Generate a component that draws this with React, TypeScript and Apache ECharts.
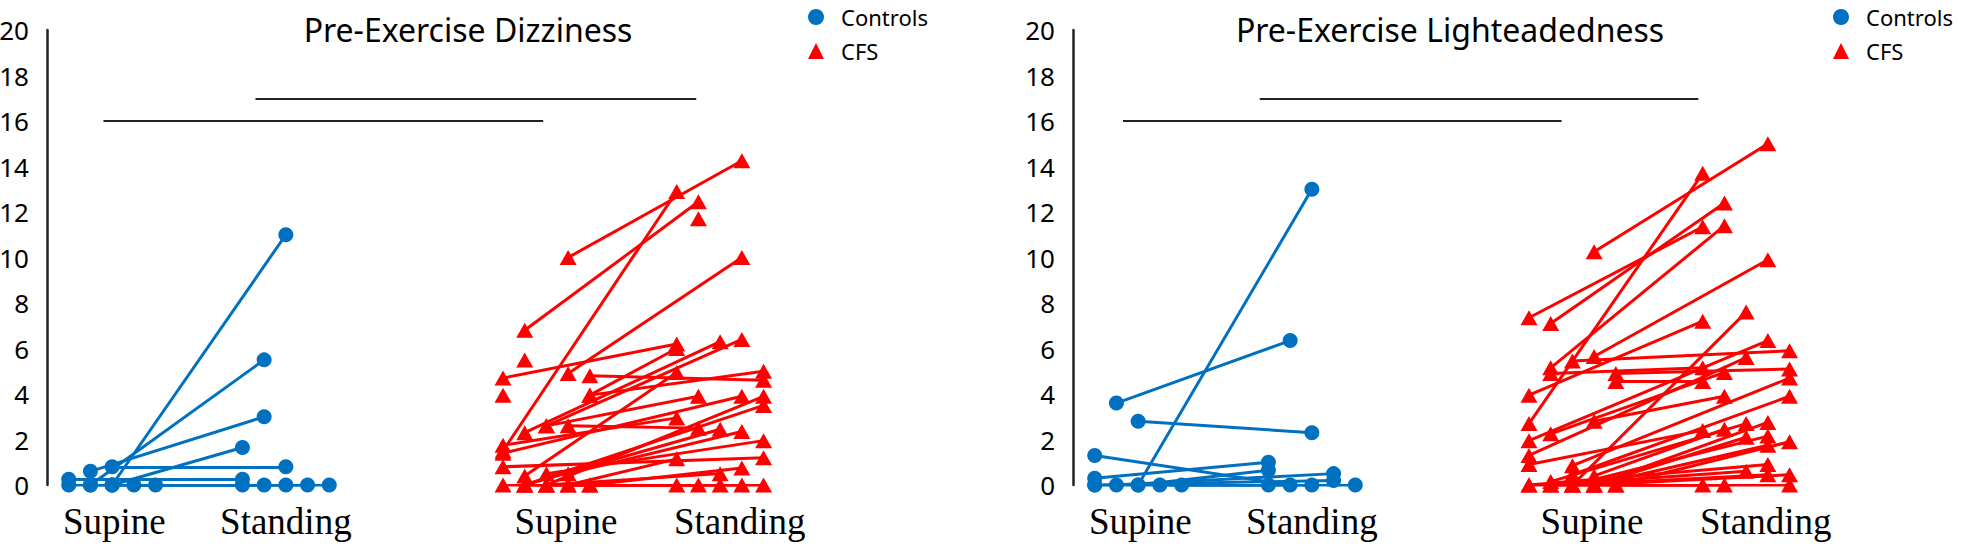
import { useEffect, useRef } from "react";
import * as echarts from "echarts";

// ---------- axes / labels ----------
const Y_MIN = 0;
const Y_MAX = 20;
const Y_STEP = 2;
const X_MIN = 0;
const X_MAX = 35;
const X_LABEL_POS = [3.1, 11, 23.9, 31.9];
const X_LABEL_TEXT = ["Supine", "Standing", "Supine", "Standing"];
const PANEL_TITLES = ["Pre-Exercise Dizziness", "Pre-Exercise Lighteadedness"];
const GROUP_NAMES = ["Controls", "CFS"];

// ---------- Dizziness: Controls (paired supine -> standing) ----------
const dizCtrlSupX = [3, 2, 2, 3, 3, 1, 1, 4, 5, 2, 3];
const dizCtrlSupY = [0, 0, 0.6, 0, 0.8, 0.25, 0, 0, 0, 0, 0];
const dizCtrlStdX = [11, 10, 10, 9, 11, 9, 9, 12, 13, 10, 11];
const dizCtrlStdY = [11, 5.5, 3, 1.65, 0.8, 0.25, 0, 0, 0, 0, 0];

// ---------- Dizziness: CFS ----------
const dizCfsSupX = [24, 21, 22, 24, 21, 25, 25, 25, 22, 23, 23, 24, 21, 21, 21, 22, 23, 22, 23, 24, 22, 24, 25, 23, 21, 22, 24, 25, 23];
const dizCfsSupY = [10, 1.5, 6.8, 4.9, 4.7, 4.8, 3.95, 3.95, 2.3, 2.6, 2.6, 2.6, 1.75, 1.4, 0.8, 0.4, 0, 0, 0.5, 0.5, 0, 0, 0, 0, 0, 0, 0, 0, 0];
const dizCfsStdX = [32, 29, 30, 32, 29, 33, 29, 33, 31, 32, 30, 30, 29, 32, 33, 29, 33, 33, 33, 32, 31, 29, 32, 31, 29, 30, 31, 33, 32];
const dizCfsStdY = [14.25, 12.9, 12.45, 10, 6.2, 4.6, 6.0, 5.0, 6.3, 6.4, 3.9, 2.5, 2.95, 3.9, 1.2, 4.95, 3.9, 3.5, 1.95, 2.35, 2.45, 1.15, 0.75, 0.5, 0, 0, 0, 0, 0];
const dizCfsLoneX = [22, 21, 30];
const dizCfsLoneY = [5.5, 3.95, 11.7];

// ---------- Dizziness: significance bars ----------
const dizBarY = [16, 17];
const dizBarX1 = [2.6, 9.6];
const dizBarX2 = [22.85, 29.9];

// ---------- Lightheadedness: Controls ----------
const lhCtrlSupX = [2, 3, 3, 1, 1, 3, 2, 1, 4, 5, 1];
const lhCtrlSupY = [3.6, 2.8, 0, 1.3, 0.3, 0, 0, 0, 0, 0, 0];
const lhCtrlStdX = [10, 11, 11, 10, 9, 9, 12, 12, 11, 13, 9];
const lhCtrlStdY = [6.35, 2.3, 13, 0, 1.0, 0.65, 0.5, 0.2, 0, 0, 0];

// ---------- Lightheadedness: CFS ----------
const lhCfsSupX = [24, 21, 21, 22, 22, 24, 21, 23, 23, 22, 25, 21, 22, 24, 25, 21, 21, 23, 23, 24, 22, 24, 24, 23, 25, 24, 21, 22, 23, 24, 21, 22, 25];
const lhCfsSupY = [10.25, 2.7, 7.35, 7.1, 5.15, 5.65, 3.95, 0, 5.45, 4.9, 4.9, 1.95, 2.25, 2.8, 4.55, 1.3, 0.9, 0.85, 0.45, 0.4, 0.15, 0, 0, 0, 0, 0, 0, 0, 0, 0, 0, 0, 0];
const lhCfsStdX = [32, 29, 29, 30, 30, 32, 29, 31, 33, 29, 33, 32, 30, 30, 29, 31, 29, 33, 33, 30, 31, 32, 31, 32, 33, 32, 32, 31, 32, 33, 29, 30, 33];
const lhCfsStdY = [15, 13.7, 11.35, 12.4, 11.4, 9.9, 7.2, 7.6, 5.9, 5.15, 5.1, 6.35, 4.95, 3.9, 4.55, 5.6, 2.4, 4.7, 3.9, 2.45, 2.7, 2.75, 2.1, 2.15, 1.9, 1.75, 0.9, 0.6, 0.45, 0.45, 0, 0, 0];
const lhCfsLoneX: number[] = [];
const lhCfsLoneY: number[] = [];

// ---------- Lightheadedness: significance bars ----------
const lhBarY = [16, 17];
const lhBarX1 = [2.3, 8.6];
const lhBarX2 = [22.5, 28.8];

const BLUE = "#0070C0";
const RED = "#FF0000";
const SANS = "Noto Sans";
const SERIF = "Liberation Serif";

const GRID_LEFTS = [47, 1073];
const GRID_TOP = 30;
const GRID_H = 455;
const GRID_W = 760;

type Group = { sx: number[]; sy: number[]; tx: number[]; ty: number[]; lx: number[]; ly: number[] };

function pairLines(g: Group) {
  return g.sx.map((_, i) => ({ coords: [[g.sx[i], g.sy[i]], [g.tx[i], g.ty[i]]] }));
}
function allPoints(g: Group) {
  const pts: number[][] = [];
  g.sx.forEach((_, i) => pts.push([g.sx[i], g.sy[i]]));
  g.tx.forEach((_, i) => pts.push([g.tx[i], g.ty[i]]));
  g.lx.forEach((_, i) => pts.push([g.lx[i], g.ly[i]]));
  return pts;
}

function panelSeries(idx: number, ctrl: Group, cfs: Group, barY: number[], barX1: number[], barX2: number[]) {
  return [
    {
      type: "lines",
      coordinateSystem: "cartesian2d",
      xAxisIndex: idx,
      yAxisIndex: idx,
      silent: true,
      z: 1,
      lineStyle: { color: "#222", width: 2, opacity: 1 },
      data: barY.map((y, i) => ({ coords: [[barX1[i], y], [barX2[i], y]] })),
    },
    {
      type: "lines",
      coordinateSystem: "cartesian2d",
      xAxisIndex: idx,
      yAxisIndex: idx,
      z: 2,
      lineStyle: { color: BLUE, width: 3, opacity: 1 },
      data: pairLines(ctrl),
    },
    {
      type: "scatter",
      name: GROUP_NAMES[0],
      xAxisIndex: idx,
      yAxisIndex: idx,
      z: 3,
      symbol: "circle",
      symbolSize: 15,
      itemStyle: { color: BLUE, opacity: 1 },
      data: allPoints(ctrl),
    },
    {
      type: "lines",
      coordinateSystem: "cartesian2d",
      xAxisIndex: idx,
      yAxisIndex: idx,
      z: 2,
      lineStyle: { color: RED, width: 3, opacity: 1 },
      data: pairLines(cfs),
    },
    {
      type: "scatter",
      name: GROUP_NAMES[1],
      xAxisIndex: idx,
      yAxisIndex: idx,
      z: 3,
      symbol: "triangle",
      symbolSize: [17, 15],
      itemStyle: { color: RED, opacity: 1 },
      data: allPoints(cfs),
    },
  ];
}

export default function App() {
  const ref = useRef<HTMLDivElement>(null);
  useEffect(() => {
    if (!ref.current) return;
    const chart = echarts.init(ref.current, null, { renderer: "svg" });

    const dizCtrl: Group = { sx: dizCtrlSupX, sy: dizCtrlSupY, tx: dizCtrlStdX, ty: dizCtrlStdY, lx: [], ly: [] };
    const dizCfs: Group = { sx: dizCfsSupX, sy: dizCfsSupY, tx: dizCfsStdX, ty: dizCfsStdY, lx: dizCfsLoneX, ly: dizCfsLoneY };
    const lhCtrl: Group = { sx: lhCtrlSupX, sy: lhCtrlSupY, tx: lhCtrlStdX, ty: lhCtrlStdY, lx: [], ly: [] };
    const lhCfs: Group = { sx: lhCfsSupX, sy: lhCfsSupY, tx: lhCfsStdX, ty: lhCfsStdY, lx: lhCfsLoneX, ly: lhCfsLoneY };

    const grids = GRID_LEFTS.map((left) => ({
      left,
      top: GRID_TOP,
      width: GRID_W,
      height: GRID_H,
      containLabel: false,
      outerBoundsMode: "none",
    }));

    const xAxes = GRID_LEFTS.map((_, i) => ({
      type: "value",
      gridIndex: i,
      min: X_MIN,
      max: X_MAX,
      axisLine: { show: false },
      axisTick: { show: false },
      splitLine: { show: false },
      axisLabel: {
        customValues: X_LABEL_POS,
        formatter: (v: number) => {
          const k = X_LABEL_POS.findIndex((p) => Math.abs(p - v) < 1e-6);
          return k >= 0 ? X_LABEL_TEXT[k] : "";
        },
        fontFamily: SERIF,
        fontSize: 37,
        color: "#000",
        margin: 18,
      },
    }));

    const yAxes = GRID_LEFTS.map((_, i) => ({
      type: "value",
      gridIndex: i,
      min: Y_MIN,
      max: Y_MAX,
      interval: Y_STEP,
      axisLine: { show: true, lineStyle: { color: "#222", width: 2.5 } },
      axisTick: { show: false },
      splitLine: { show: false },
      axisLabel: { fontFamily: SANS, fontSize: 26, color: "#000", margin: 18 },
    }));

    const legendLefts = [803, 1828];
    const legends = legendLefts.map((left) => ({
      left,
      top: 0,
      orient: "vertical",
      itemWidth: 16,
      itemHeight: 16,
      itemGap: 10,
      selectedMode: false,
      textStyle: { fontFamily: SANS, fontSize: 22, color: "#000", padding: [0, 0, 0, 12], lineHeight: 24 },
      data: [
        { name: GROUP_NAMES[0], icon: "circle" },
        { name: GROUP_NAMES[1], icon: "triangle" },
      ],
    }));

    const titleX = [468, 1450];
    const graphics = PANEL_TITLES.map((t, i) => ({
      type: "text",
      x: titleX[i],
      y: 29,
      style: {
        text: t,
        fontFamily: SANS,
        fontSize: 32,
        fill: "#000",
        textAlign: "center",
        textVerticalAlign: "middle",
      },
    }));

    chart.setOption({
      animation: false,
      backgroundColor: "#fff",
      grid: grids,
      xAxis: xAxes,
      yAxis: yAxes,
      legend: legends,
      graphic: graphics,
      series: [
        ...panelSeries(0, dizCtrl, dizCfs, dizBarY, dizBarX1, dizBarX2),
        ...panelSeries(1, lhCtrl, lhCfs, lhBarY, lhBarX1, lhBarX2),
      ],
    } as any);

    return () => chart.dispose();
  }, []);

  return (
    <div
      ref={ref}
      style={{ position: "fixed", left: 0, top: 0, width: 1961, height: 549, background: "#fff" }}
    />
  );
}
